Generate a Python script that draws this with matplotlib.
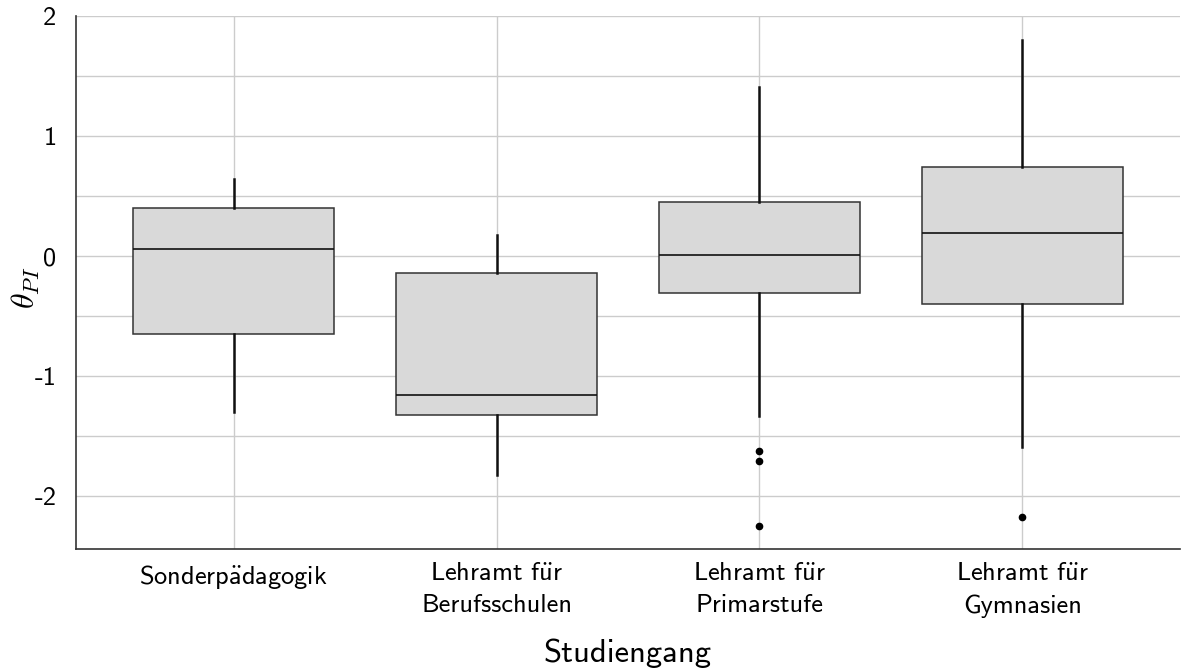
import matplotlib
matplotlib.use("Agg")
import matplotlib.pyplot as plt
from matplotlib.ticker import MultipleLocator

# values
labels = [r'Sonderp$\ddot{\mathsf{a}}$dagogik', r'Lehramt f$\ddot{\mathsf{u}}$r' + '\nBerufsschulen',
          r'Lehramt f$\ddot{\mathsf{u}}$r' + '\nPrimarstufe', r'Lehramt f$\ddot{\mathsf{u}}$r' + '\nGymnasien']
whislo = [-1.30, -1.82, -1.33, -1.59]
q1 = [-0.65, -1.32, -0.31, -0.40]
med = [0.058, -1.16, 0.01, 0.19]
q3 = [0.40, -0.14, 0.45, 0.74]
whishi = [0.64, 0.175, 1.41, 1.80]
fliers = [[], [], [-1.62, -1.71, -2.25], [-2.17]]

plt.rcParams['font.family'] = ['cmss10', 'DejaVu Sans']
plt.rcParams['axes.unicode_minus'] = False
plt.rcParams['mathtext.fontset'] = 'cm'

stats = []
for i in range(len(labels)):
    stats.append({
        'whislo': whislo[i], 'q1': q1[i], 'med': med[i], 'q3': q3[i],
        'whishi': whishi[i], 'fliers': fliers[i], 'label': labels[i],
    })

fig = plt.figure(figsize=(11.98, 6.69), dpi=100)
ax = fig.add_axes([76 / 1198, 1 - 549 / 669, (1180 - 76) / 1198, (549 - 16) / 669])

pos = [1, 2, 3, 4]
ax.bxp(stats, positions=pos, widths=0.765, patch_artist=True, showcaps=False,
       boxprops=dict(facecolor='#d9d9d9', edgecolor='#333333', linewidth=1.1),
       medianprops=dict(color='#111111', linewidth=1.2),
       whiskerprops=dict(color='#111111', linewidth=1.8),
       flierprops=dict(marker='o', markerfacecolor='black', markeredgecolor='black', markersize=4.5),
       zorder=3)

ax.set_xlim(0.4, 4.6)
ax.set_ylim(-2.44, 2.0)
ax.yaxis.set_major_locator(MultipleLocator(1))
ax.yaxis.set_minor_locator(MultipleLocator(0.5))
ax.set_xticks(pos)
ax.set_xticklabels(labels, linespacing=1.45)

ax.grid(True, which='both', axis='y', color='#cccccc', linewidth=1.0, zorder=0)
ax.grid(True, which='major', axis='x', color='#cccccc', linewidth=1.0, zorder=0)
ax.set_axisbelow(True)
ax.tick_params(which='both', length=0, labelsize=19, colors='black')
ax.tick_params(axis='x', pad=10)
ax.tick_params(axis='y', pad=14)
for s in ['top', 'right']:
    ax.spines[s].set_visible(False)
for s in ['left', 'bottom']:
    ax.spines[s].set_color('#333333')
    ax.spines[s].set_linewidth(1.2)

ax.set_xlabel('Studiengang', fontsize=23.5)
ax.xaxis.set_label_coords(0.5, -0.168)
ax.set_ylabel(r'$\theta_{PI}$', fontsize=23)
ax.yaxis.set_label_coords(-0.031, 0.49)

fig.savefig('out.png', dpi=100)
